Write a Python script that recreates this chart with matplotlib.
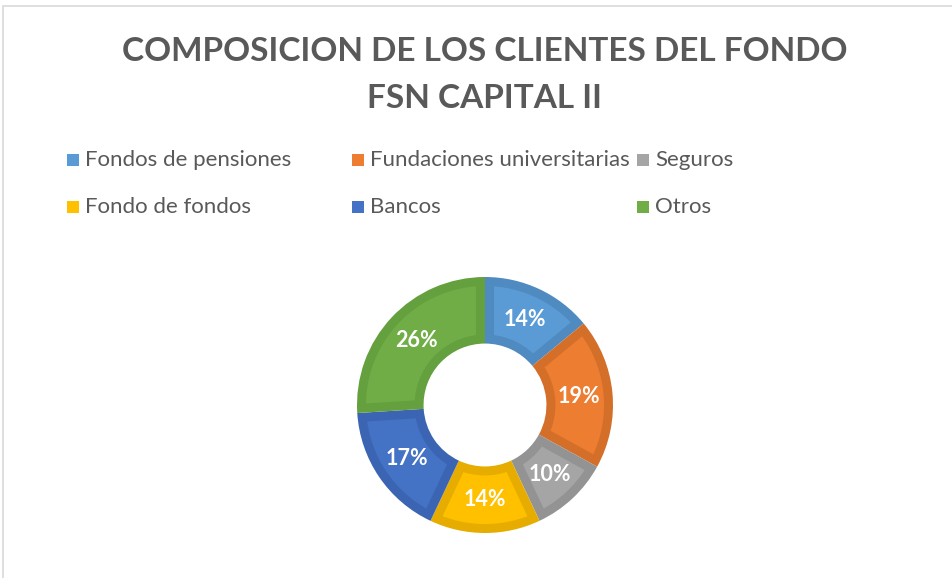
import numpy as np
import matplotlib
matplotlib.use("Agg")
from matplotlib import pyplot as plt
from matplotlib.patches import Rectangle, Polygon

plt.rcParams['font.family'] = ['Lato', 'DejaVu Sans']

categorias = ["Fondos de pensiones", "Fundaciones universitarias", "Seguros",
              "Fondo de fondos", "Bancos", "Otros"]
porcentajes = [14, 19, 10, 14, 17, 26]
colores = ["#5B9BD5", "#ED7D31", "#A5A5A5", "#FFC000", "#4472C4", "#70AD47"]
bordes = ["#4F8AC0", "#D46F2A", "#939393", "#E6AD00", "#3B65B2", "#64A03E"]
titulo = "COMPOSICION DE LOS CLIENTES DEL FONDO\nFSN CAPITAL II"
gris_texto = "#595959"

W, H = 952, 578
fig = plt.figure(figsize=(W / 100, H / 100), dpi=100)
fig.patch.set_facecolor("white")

# marco gris claro del grafico (solo se ve arriba y a la izquierda)
fig.patches.append(Rectangle((3 / W, -0.1), 1.2, (H - 6) / H + 0.1,
                             transform=fig.transFigure, fill=False,
                             edgecolor="#D9D9D9", linewidth=1.2))

fig.text(485 / W, 1 - 75 / H, titulo, ha="center", va="center",
         fontsize=24, fontweight="bold", color=gris_texto, linespacing=1.78)

# leyenda manual en rejilla 3x2 como en Excel
col_x = [67, 352, 637]
fila_y = [160, 207]
for i, (cat, col) in enumerate(zip(categorias, colores)):
    x = col_x[i % 3]
    y = fila_y[i // 3]
    fig.patches.append(Rectangle((x / W, (H - y - 6) / H), 12 / W, 12 / H,
                                 transform=fig.transFigure, facecolor=col,
                                 edgecolor="none"))
    fig.text((x + 18) / W, 1 - y / H, cat, ha="left", va="center",
             fontsize=16, color=gris_texto)

# dona
cx, cy, r = 485, 405, 128
lado = 2.4 * r
ax = fig.add_axes([(cx - lado / 2) / W, (H - cy - lado / 2) / H, lado / W, lado / H])
cunas, textos, autotextos = ax.pie(
    porcentajes, colors=bordes, startangle=90, counterclock=False,
    radius=1.0, wedgeprops=dict(width=0.52, linewidth=0),
    autopct=lambda p: f"{p:.0f}%", pctdistance=0.74,
    textprops=dict(color="white", fontsize=15.5, fontweight="bold"))


def porcion_interior(cuna, d):
    # misma porcion, recortada hacia dentro una distancia d (borde oscuro)
    t1, t2 = cuna.theta1, cuna.theta2
    r_ext = cuna.r - d
    r_int = cuna.r - cuna.width + d
    a1e = t1 + np.degrees(np.arcsin(d / r_ext))
    a2e = t2 - np.degrees(np.arcsin(d / r_ext))
    a1i = t1 + np.degrees(np.arcsin(d / r_int))
    a2i = t2 - np.degrees(np.arcsin(d / r_int))
    ang_e = np.radians(np.linspace(a1e, a2e, 80))
    ang_i = np.radians(np.linspace(a2i, a1i, 80))
    xs = np.concatenate([r_ext * np.cos(ang_e), r_int * np.cos(ang_i)])
    ys = np.concatenate([r_ext * np.sin(ang_e), r_int * np.sin(ang_i)])
    return np.column_stack([xs + cuna.center[0], ys + cuna.center[1]])


grosor_borde = 9 / r
for cuna, col in zip(cunas, colores):
    ax.add_patch(Polygon(porcion_interior(cuna, grosor_borde), closed=True,
                         facecolor=col, edgecolor="none", zorder=1.5))

ax.set_xlim(-1.2, 1.2)
ax.set_ylim(-1.2, 1.2)
ax.set_aspect("equal")
ax.axis("off")

fig.savefig("out.png", dpi=100, facecolor="white")
